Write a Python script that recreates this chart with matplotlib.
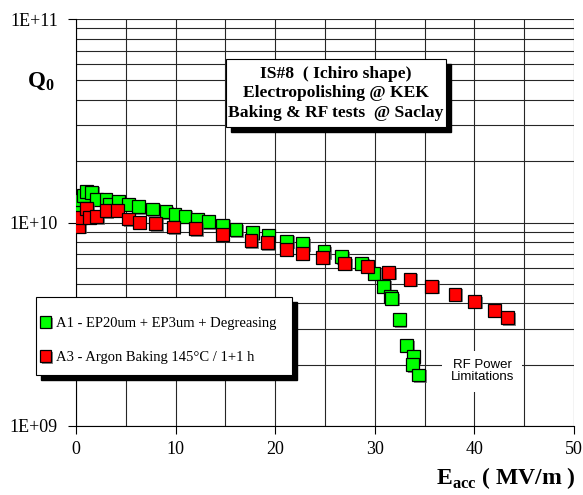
import matplotlib
matplotlib.use('Agg')
import matplotlib.pyplot as plt
import matplotlib.patheffects as pe
from matplotlib.patches import Rectangle
from matplotlib.ticker import FixedLocator, FuncFormatter
import numpy as np

plt.rcParams['font.family'] = ['Liberation Serif', 'DejaVu Serif']
plt.rcParams['mathtext.fontset'] = 'custom'
plt.rcParams['mathtext.rm'] = 'Liberation Serif'
plt.rcParams['mathtext.bf'] = 'Liberation Serif:bold'

# A1 - EP20um + EP3um + Degreasing
e_a1 = [0.13, 0.57, 0.73, 1.07, 1.58, 2.08, 3.01, 3.40, 4.25, 5.25, 6.26, 7.70,
        9.03, 9.94, 10.94, 12.18, 13.28, 14.73, 16.06, 17.7, 19.3, 21.15, 22.76,
        24.9, 26.68, 28.68, 29.92, 30.86, 31.53, 31.7, 32.46, 33.2, 33.87, 33.77, 34.4]
q_a1 = [1.17e10, 1.29e10, 1.36e10, 1.42e10, 1.41e10, 1.30e10, 1.30e10, 1.23e10,
        1.27e10, 1.23e10, 1.20e10, 1.165e10, 1.13e10, 1.09e10, 1.075e10, 1.04e10,
        1.01e10, 9.7e9, 9.2e9, 8.9e9, 8.65e9, 8.1e9, 7.85e9, 7.2e9, 6.8e9, 6.3e9,
        5.63e9, 4.87e9, 4.35e9, 4.24e9, 3.32e9, 2.49e9, 2.19e9, 2.0e9, 1.78e9]

# A3 - Argon Baking 145°C / 1+1 h
e_a3 = [0.30, 0.5, 1.07, 1.34, 2.08, 3.01, 4.15, 5.25, 6.36, 8.0, 9.77, 12.0,
        14.69, 17.57, 19.2, 21.1, 22.7, 24.77, 27.0, 29.25, 31.4, 33.53, 35.71,
        38.05, 40.0, 42.0, 43.34]
q_a3 = [9.6e9, 1.06e10, 1.17e10, 1.06e10, 1.07e10, 1.14e10, 1.15e10, 1.04e10,
        1.005e10, 9.9e9, 9.5e9, 9.3e9, 8.77e9, 8.14e9, 7.96e9, 7.4e9, 7.06e9,
        6.75e9, 6.3e9, 6.1e9, 5.69e9, 5.26e9, 4.87e9, 4.44e9, 4.1e9, 3.70e9, 3.41e9]

labels = ['A1 - EP20um + EP3um + Degreasing', 'A3 - Argon Baking 145°C / 1+1 h']

fig = plt.figure(figsize=(5.83, 4.95), dpi=100)
ax = fig.add_axes([0.1304, 0.1394, 0.8542, 0.8222])

shadow = [pe.SimplePatchShadow(offset=(1.2, -1.2), shadow_rgbFace='0.35', alpha=0.7), pe.Normal()]
ax.plot(e_a1, q_a1, 's', ms=9.3, mfc='#00ff00', mec='black', mew=0.9,
        label=labels[0], path_effects=shadow, zorder=5)
ax.plot(e_a3, q_a3, 's', ms=9.3, mfc='#ff0000', mec='black', mew=0.9,
        label=labels[1], path_effects=shadow, zorder=6)

ax.set_yscale('log')
ax.set_xlim(0, 50)
ax.set_ylim(1e9, 1e11)
ax.xaxis.set_major_locator(FixedLocator(np.arange(0, 51, 10)))
ax.xaxis.set_minor_locator(FixedLocator(np.arange(5, 50, 10)))
ax.yaxis.set_major_locator(FixedLocator([1e9, 1e10, 1e11]))
ax.yaxis.set_major_formatter(FuncFormatter(lambda v, p: '1E+%02d' % round(np.log10(v))))
ax.yaxis.set_minor_formatter(FuncFormatter(lambda v, p: ''))

ax.grid(True, which='both', color='0.15', lw=0.8)
ax.tick_params(axis='both', which='major', labelsize=13, direction='out', length=6, width=0.8)
ax.tick_params(axis='both', which='minor', length=0)
ax.tick_params(axis='x', pad=5)
ax.tick_params(axis='y', pad=7)
ax.spines['top'].set_visible(False)
ax.spines['right'].set_visible(False)

# title box
ax.add_patch(Rectangle((0.311, 0.723), 0.442, 0.166, transform=ax.transAxes,
                       facecolor='black', edgecolor='black', clip_on=False, zorder=7))
ax.add_patch(Rectangle((0.301, 0.735), 0.442, 0.166, transform=ax.transAxes,
                       facecolor='white', edgecolor='black', lw=0.8, clip_on=False, zorder=8))
ax.text(0.522, 0.817, 'IS#8  ( Ichiro shape)\nElectropolishing @ KEK\nBaking & RF tests  @ Saclay',
        transform=ax.transAxes, ha='center', va='center', fontsize=12.6, fontweight='bold',
        linespacing=1.32, zorder=9)

ax.text(40.8, 1.86e9, 'RF Power\nLimitations', family=['Liberation Sans', 'DejaVu Sans'],
        fontsize=9.5, ha='center', va='center', linespacing=1.05, zorder=4,
        bbox=dict(facecolor='white', edgecolor='none', pad=6))

# legend box with shadow
ax.add_patch(Rectangle((-0.070, 0.113), 0.514, 0.192, transform=ax.transAxes,
                       facecolor='black', edgecolor='black', clip_on=False, zorder=9))
ax.add_patch(Rectangle((-0.080, 0.125), 0.514, 0.192, transform=ax.transAxes,
                       facecolor='white', edgecolor='black', lw=0.8, clip_on=False, zorder=9))
leg = ax.legend(loc='center left', bbox_to_anchor=(-0.080, 0.210), borderaxespad=0,
                fontsize=10.5, frameon=False, handlelength=0.5,
                handletextpad=0.45, labelspacing=1.45, borderpad=0.4, markerscale=0.9)
leg.set_zorder(10)

fig.text(0.069, 0.835, r'Q$_{\mathbf{0}}$', fontsize=16.5, fontweight='bold', ha='center', va='center')
fig.text(0.987, 0.034, r'E$_{\mathbf{acc}}$ ( MV/m )', fontsize=17, fontweight='bold',
         ha='right', va='center')

fig.savefig('out.png', dpi=100)
